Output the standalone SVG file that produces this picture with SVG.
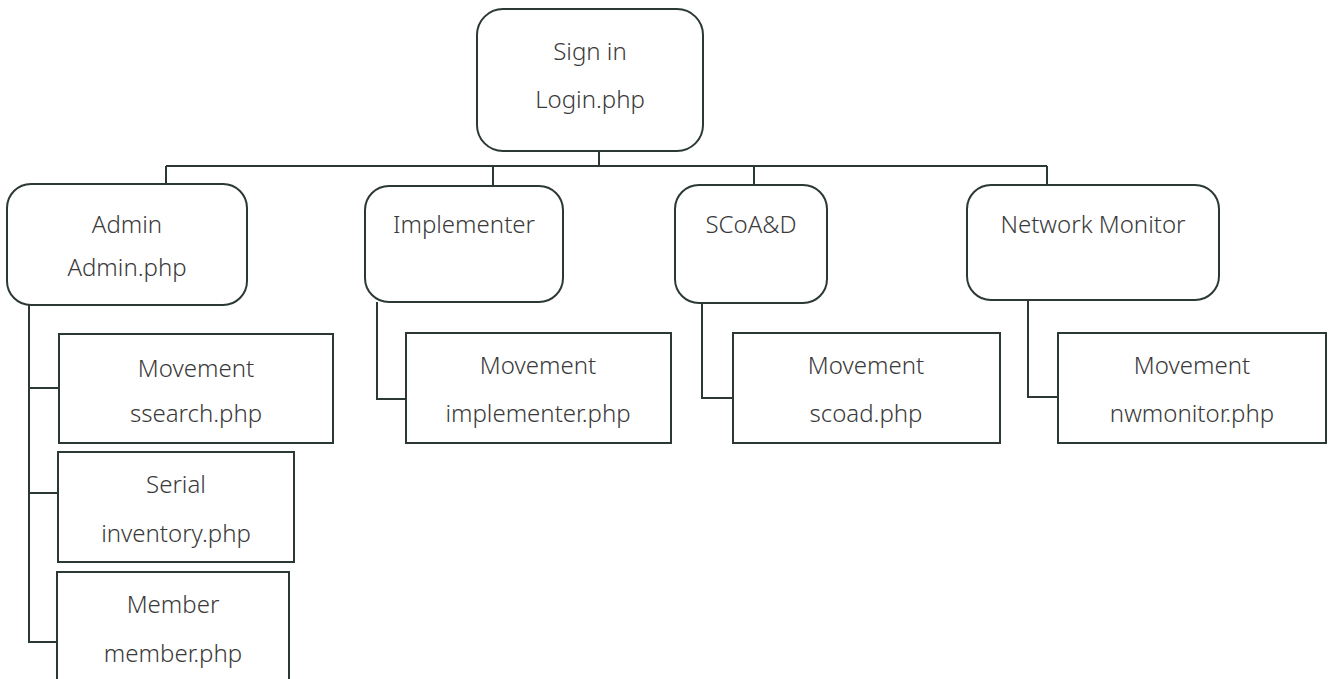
<svg xmlns="http://www.w3.org/2000/svg" width="1333" height="679" viewBox="0 0 1333 679">
<style>
.box{fill:#fff;stroke:#2b3834;stroke-width:2}
.ln{fill:none;stroke:#2b3834;stroke-width:2}
text{font-family:"Noto Sans","Open Sans",sans-serif;font-size:24px;font-weight:300;fill:#3a3a3a;text-anchor:middle}
</style>
<rect width="1333" height="679" fill="#fff"/>
<g id="connectors">
<path class="ln" d="M599 151V166M166 166H1047M166 166V184M493 166V186M754 166V185M1047 166V185"/>
<path class="ln" d="M29 305V642H58M29 388H59M29 493H58"/>
<path class="ln" d="M377 302V399H406"/>
<path class="ln" d="M702 303V398H733"/>
<path class="ln" d="M1028 300V397H1058"/>
</g>
<g id="signin"><rect class="box" x="477" y="9" width="226" height="142" rx="26"/><text x="590" y="60">Sign in</text><text x="590" y="108">Login.php</text></g>
<g id="admin"><rect class="box" x="7" y="184" width="240" height="121" rx="24"/><text x="127" y="233">Admin</text><text x="127" y="276">Admin.php</text></g>
<g id="implementer"><rect class="box" x="365" y="186" width="198" height="116" rx="24"/><text x="464" y="233">Implementer</text></g>
<g id="scoad"><rect class="box" x="675" y="185" width="152" height="118" rx="24"/><text x="751" y="233">SCoA&amp;D</text></g>
<g id="nwmonitor"><rect class="box" x="967" y="185" width="252" height="115" rx="24"/><text x="1093" y="233">Network Monitor</text></g>
<g id="ssearch"><rect class="box" x="59" y="334" width="274" height="109"/><text x="196" y="377">Movement</text><text x="196" y="422">ssearch.php</text></g>
<g id="inventory"><rect class="box" x="58" y="452" width="236" height="110"/><text x="176" y="493">Serial</text><text x="176" y="542">inventory.php</text></g>
<g id="member"><rect class="box" x="57" y="572" width="232" height="120"/><text x="173" y="613">Member</text><text x="173" y="662">member.php</text></g>
<g id="impl-movement"><rect class="box" x="406" y="333" width="265" height="110"/><text x="538" y="374">Movement</text><text x="538" y="422">implementer.php</text></g>
<g id="scoad-movement"><rect class="box" x="733" y="333" width="267" height="110"/><text x="866" y="374">Movement</text><text x="866" y="422">scoad.php</text></g>
<g id="nw-movement"><rect class="box" x="1058" y="333" width="268" height="110"/><text x="1192" y="374">Movement</text><text x="1192" y="422">nwmonitor.php</text></g>
</svg>
